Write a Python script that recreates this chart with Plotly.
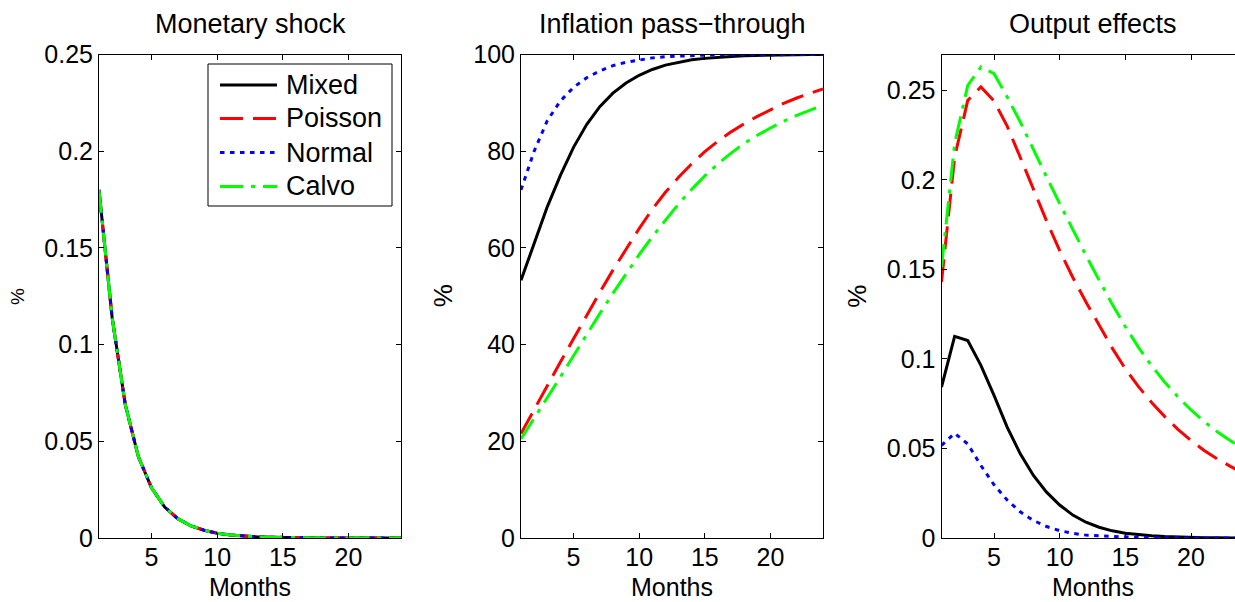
import plotly.graph_objects as go
from plotly.subplots import make_subplots

W, H = 1235, 602
FONT = "Liberation Sans"

months = list(range(1, 25))

series_names = ["Mixed", "Poisson", "Normal", "Calvo"]
series_colors = ["#000000", "#ff0000", "#0000ff", "#00ff00"]
series_dash = ["solid", "23px,10px", "4.5px,5.5px", "23px,8px,4px,8px"]

# Monetary shock (identical for all four models)
shock = [0.180, 0.114, 0.069, 0.042, 0.026, 0.016, 0.0100, 0.0063, 0.0040, 0.0025,
         0.0016, 0.0010, 0.0006, 0.0004, 0.00025, 0.00016, 0.0001, 0.00006, 0.00004,
         0.00002, 0.00001, 0.0, 0.0, 0.0]

# Inflation pass-through (%)
pt_mixed = [53.3, 60.8, 68.5, 75.0, 80.8, 85.5, 89.2, 92.0, 94.1, 95.7, 96.9, 97.8,
            98.4, 98.9, 99.2, 99.45, 99.6, 99.75, 99.83, 99.9, 99.93, 99.96, 99.98, 99.99]
pt_poisson = [21.6, 26.6, 31.6, 36.4, 41.2, 46.1, 50.8, 55.4, 59.8, 64.0, 68.0, 71.5,
              74.6, 77.4, 79.9, 82.1, 84.0, 85.7, 87.2, 88.6, 89.9, 91.0, 92.0, 92.9]
pt_normal = [72.0, 80.0, 86.3, 90.4, 93.2, 95.2, 96.6, 97.7, 98.4, 98.9, 99.3, 99.55,
             99.7, 99.8, 99.87, 99.92, 99.95, 99.97, 99.98, 99.99, 100.0, 100.0, 100.0, 100.0]
pt_calvo = [20.5, 24.7, 29.0, 33.3, 37.7, 42.1, 46.4, 50.6, 54.7, 58.6, 62.3, 65.8,
            69.1, 72.1, 74.9, 77.4, 79.6, 81.6, 83.3, 84.8, 86.2, 87.4, 88.5, 89.5]

# Output effects (%)
out_mixed = [0.0843, 0.1126, 0.1103, 0.0964, 0.0796, 0.0619, 0.0470, 0.0349, 0.0256,
             0.0184, 0.0128, 0.0088, 0.0060, 0.0040, 0.0027, 0.0018, 0.0012, 0.0008,
             0.0005, 0.0003, 0.0002, 0.0001, 0.0001, 0.0]
out_poisson = [0.1429, 0.2127, 0.2444, 0.2519, 0.2440, 0.2300, 0.2125, 0.1945, 0.1770,
               0.1605, 0.1455, 0.1318, 0.1185, 0.1060, 0.0945, 0.0845, 0.0757, 0.0678,
               0.0607, 0.0544, 0.0489, 0.0442, 0.0400, 0.0362]
out_normal = [0.0517, 0.0585, 0.0525, 0.0405, 0.0297, 0.0212, 0.0146, 0.0098, 0.0064,
              0.0041, 0.0026, 0.0016, 0.0012, 0.0008, 0.0005, 0.0003, 0.0001, 0.0001,
              0.0, 0.0, 0.0, 0.0, 0.0, 0.0]
out_calvo = [0.1513, 0.2202, 0.2528, 0.2630, 0.2593, 0.2463, 0.2323, 0.2165, 0.2016,
             0.1867, 0.1718, 0.1578, 0.1440, 0.1305, 0.1180, 0.1065, 0.0962, 0.0870,
             0.0788, 0.0715, 0.0650, 0.0593, 0.0543, 0.0498]

panel_titles = ["Monetary shock", "Inflation pass\u2212through", "Output effects"]
panel_data = [
    [shock, shock, shock, shock],
    [pt_mixed, pt_poisson, pt_normal, pt_calvo],
    [out_mixed, out_poisson, out_normal, out_calvo],
]


def px(x):
    return x / W


def py(y):
    return 1 - y / H


fig = make_subplots(rows=1, cols=3)

for col, data in enumerate(panel_data, start=1):
    for name, color, dash, values in zip(series_names, series_colors, series_dash, data):
        fig.add_trace(go.Scatter(x=months, y=values, mode="lines", name=name,
                                 line=dict(color=color, width=3, dash=dash),
                                 showlegend=False, hoverinfo="skip"), row=1, col=col)

axis_common = dict(showline=True, linecolor="black", linewidth=1, ticks="inside",
                   ticklen=5, tickcolor="black", showgrid=False, zeroline=False,
                   automargin=False,
                   tickfont=dict(family=FONT, size=25, color="black"))

x_domains = [[px(99), px(401)], [px(521), px(823)], [px(941.5), 1.0]]
x_ranges = [[1, 24], [1, 24], [1, 23.35]]
y_ranges = [[0, 0.25], [0, 100], [0, 0.27]]
y_ticks = [[0, 0.05, 0.1, 0.15, 0.2, 0.25], [0, 20, 40, 60, 80, 100],
           [0, 0.05, 0.1, 0.15, 0.2, 0.25]]

for i in range(3):
    xa = "xaxis" if i == 0 else f"xaxis{i + 1}"
    ya = "yaxis" if i == 0 else f"yaxis{i + 1}"
    fig.layout[xa].update(domain=x_domains[i], range=x_ranges[i], tickvals=[5, 10, 15, 20],
                          mirror="ticks", ticklabelstandoff=-3, **axis_common)
    fig.layout[ya].update(domain=[py(538), py(54.5)], range=y_ranges[i], tickvals=y_ticks[i],
                          mirror="ticks" if i < 2 else False, **axis_common)

annotations = []
title_x = [250, 672, 1092.5]
for t, cx in zip(panel_titles, title_x):
    annotations.append(dict(x=px(cx), y=py(23.7), xref="paper", yref="paper", text=t,
                            showarrow=False, xanchor="center", yanchor="middle",
                            font=dict(family=FONT, size=27, color="black")))
    annotations.append(dict(x=px(cx), y=py(587), xref="paper", yref="paper", text="Months",
                            showarrow=False, xanchor="center", yanchor="middle",
                            font=dict(family=FONT, size=25, color="black")))

pct_pos = [(17.5, 296.5, 19), (443.3, 296, 26), (856.7, 296, 26)]
for cx, cy, size in pct_pos:
    annotations.append(dict(x=px(cx), y=py(cy), xref="paper", yref="paper", text="%",
                            textangle=-90, showarrow=False, xanchor="center", yanchor="middle",
                            font=dict(family=FONT, size=size, color="black")))

# legend box in the first panel
shapes = [dict(type="rect", xref="paper", yref="paper", x0=px(208), x1=px(392),
               y0=py(206), y1=py(64), line=dict(color="black", width=1),
               fillcolor="white", layer="above")]
legend_rows = [85, 118.5, 152.5, 186.5]
for name, color, dash, ry in zip(series_names, series_colors, series_dash, legend_rows):
    shapes.append(dict(type="line", xref="paper", yref="paper", x0=px(220), x1=px(277),
                       y0=py(ry), y1=py(ry), line=dict(color=color, width=3, dash=dash),
                       layer="above"))
    annotations.append(dict(x=px(284), y=py(ry), xref="paper", yref="paper", text=name,
                            showarrow=False, xanchor="left", yanchor="middle",
                            font=dict(family=FONT, size=27, color="black")))

fig.update_layout(width=W, height=H,
                  margin=dict(l=0, r=0, t=0, b=0, pad=0, autoexpand=False),
                  paper_bgcolor="white", plot_bgcolor="white",
                  annotations=annotations, shapes=shapes, showlegend=False)

# drop the browser's default 8px body margin so the figure sits at the page origin
fig.write_html("out.html", config={"displayModeBar": False},
               post_script="document.body.style.margin = '0';")
